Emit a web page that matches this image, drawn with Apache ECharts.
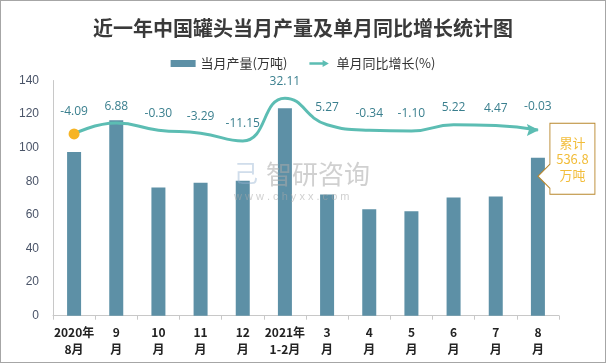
<!DOCTYPE html>
<html><head><meta charset="utf-8">
<script src="https://cdn.jsdelivr.net/npm/echarts@6/dist/echarts.min.js"></script>
<style>html,body{margin:0;padding:0;background:#fff}#c{width:606px;height:363px;box-sizing:border-box;border:1px solid #a6a6a6}</style>
</head><body><div id="c"></div>
<script>
const categories = ['2020年\n8月','9\n月','10\n月','11\n月','12\n月','2021年\n1-2月','3\n月','4\n月','5\n月','6\n月','7\n月','8\n月'];
const output = [97.5,116.3,76.3,79.2,80.4,123.5,72.2,63.4,62.2,70.4,71.0,94.0];
const growth = [-4.09,6.88,-0.30,-3.29,-11.15,32.11,5.27,-0.34,-1.10,5.22,4.47,-0.03];
const yTicks = [0,20,40,60,80,100,120,140];
const seriesNames = ['当月产量(万吨)','单月同比增长(%)'];
const cumulativeLabel = '累计\n536.8\n万吨';

const chart = echarts.init(document.getElementById('c'));
const lineData = growth.map((v,i)=>{
  if(i===0) return {value:v, symbol:'circle', symbolSize:11, itemStyle:{color:'#f6b425'}};
  if(i===growth.length-1) return {value:v, symbol:'path://M0,0 L12,6 L0,12 L2,6 Z', symbolSize:[12,12], symbolOffset:[-5,0], label:{offset:[5,0]}};
  return v;
});
chart.setOption({
  animation:false,
  title:{text:'近一年中国罐头当月产量及单月同比增长统计图',left:'center',top:12,
    textStyle:{fontSize:20,fontWeight:'bold',color:'#3a3a3a',fontFamily:'Noto Sans CJK SC'}},
  legend:{top:51,left:'center',itemWidth:25,itemHeight:7,itemGap:22,
    textStyle:{fontSize:13,color:'#333',fontFamily:'Noto Sans CJK SC'},
    data:[{name:seriesNames[0],icon:'rect'},
          {name:seriesNames[1],icon:'path://M0,3 L17,3 L17,0 L25,4.5 L17,9 L17,6 L0,6 Z'}]},
  grid:{left:52,right:46,top:79.5,bottom:46.3},
  xAxis:{type:'category',data:categories,
    axisLine:{lineStyle:{color:'#c8c8c8'}},
    axisTick:{show:true,length:4,lineStyle:{color:'#c8c8c8'}},
    axisLabel:{interval:0,fontSize:12,fontWeight:'bold',color:'#222',lineHeight:17,margin:8,
      fontFamily:'Liberation Sans Narrow, Noto Sans CJK SC'}},
  yAxis:[{type:'value',min:yTicks[0],max:yTicks[yTicks.length-1],interval:20,
    splitLine:{show:false},axisLine:{show:true,lineStyle:{color:'#c8c8c8'}},axisTick:{show:false},
    axisLabel:{fontSize:12,color:'#4a5468',margin:14,fontFamily:'Liberation Sans'}},
    {type:'value',min:-188,max:50,show:false,splitLine:{show:false}}],
  graphic:[
    {type:'text',left:265,top:160,z:100,style:{text:'智研咨询',fontSize:26,fill:'rgba(170,170,170,0.55)',fontFamily:'Noto Sans CJK SC'}},
    {type:'text',left:233,top:190,z:100,style:{text:'w w w . c h y x x . c o m',fontSize:11,fill:'rgba(170,170,170,0.55)',fontFamily:'Liberation Sans'}},
    {type:'text',left:233,top:160,z:100,style:{text:'己',fontSize:24,fill:'rgba(150,180,210,0.45)',fontFamily:'Noto Sans CJK SC'}}
  ],
  series:[
    {name:seriesNames[0],type:'bar',data:output,barWidth:14,itemStyle:{color:'#5d90a6'},
     markPoint:{symbol:'path://M0,53 L12,41 L12,0 L57,0 L57,71 L12,71 L12,65 Z',symbolSize:[57,71],symbolKeepAspect:false,
       symbolOffset:[28.5,1],
       itemStyle:{color:'#fff',borderColor:'#b8862b',borderWidth:1},
       label:{show:true,position:'inside',offset:[6,0],formatter:cumulativeLabel,color:'#f2bd3a',fontSize:13,lineHeight:16,fontFamily:'Noto Sans CJK SC'},
       data:[{coord:[categories.length-1,output[output.length-1]]}]}},
    {name:seriesNames[1],type:'line',yAxisIndex:1,data:lineData,smooth:0.5,symbol:'circle',symbolSize:0,showSymbol:true,
     itemStyle:{color:'#5cbdb3'},lineStyle:{width:3,color:'#5cbdb3'},
     label:{show:true,position:'top',distance:11,color:'#3a7f8e',fontSize:12,fontFamily:'Open Sans',
       formatter:p=>growth[p.dataIndex].toFixed(2)}}
  ]
});
</script></body></html>
